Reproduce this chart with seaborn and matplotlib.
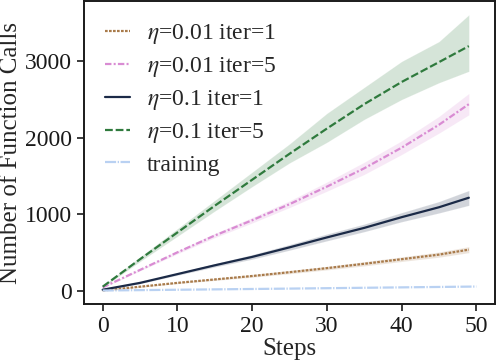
import numpy as np
import pandas as pd
import seaborn as sns
import matplotlib
matplotlib.use("Agg")
import matplotlib.pyplot as plt

# values
steps = [0, 5, 10, 15, 20, 25, 30, 35, 40, 45, 49]

eta001_it1 = [0, 50, 100, 145, 190, 240, 293, 350, 410, 470, 535]
eta001_it1_lo = [0, 44, 90, 132, 174, 220, 270, 322, 380, 436, 495]
eta001_it1_hi = [0, 56, 110, 158, 206, 260, 316, 378, 440, 504, 575]

eta001_it5 = [40, 270, 500, 720, 920, 1130, 1360, 1600, 1870, 2170, 2440]
eta001_it5_lo = [36, 258, 480, 692, 884, 1086, 1300, 1520, 1780, 2060, 2300]
eta001_it5_hi = [44, 282, 520, 748, 956, 1174, 1420, 1680, 1960, 2280, 2580]

eta01_it1 = [10, 100, 215, 330, 440, 565, 695, 820, 960, 1090, 1215]
eta01_it1_lo = [6, 90, 200, 308, 410, 528, 650, 770, 900, 1015, 1115]
eta01_it1_hi = [14, 110, 230, 352, 470, 602, 740, 870, 1020, 1165, 1310]

eta01_it5 = [50, 410, 760, 1110, 1450, 1790, 2120, 2440, 2730, 2990, 3200]
eta01_it5_lo = [40, 380, 710, 1040, 1360, 1670, 1940, 2240, 2500, 2720, 2870]
eta01_it5_hi = [60, 440, 810, 1180, 1550, 1920, 2320, 2660, 3000, 3260, 3610]

train_steps = [0, 25, 50]
training = [0, 25, 52]

sns.set_theme(style="ticks")
plt.rcParams["font.family"] = ["Liberation Serif", "DejaVu Serif"]
plt.rcParams["mathtext.fontset"] = "stix"

fig = plt.figure(figsize=(4.98, 3.64), dpi=100)
ax = fig.add_axes([84 / 498, 1 - 304.3 / 364, 411 / 498, 303.3 / 364])

series = [
    (r"$\eta$=0.01 iter=1", eta001_it1, eta001_it1_lo, eta001_it1_hi, "#a97b4b", (1.2, 0.6)),
    (r"$\eta$=0.01 iter=5", eta001_it5, eta001_it5_lo, eta001_it5_hi, "#d98cd3", (2.9, 1.0, 0.9, 1.0)),
    (r"$\eta$=0.1 iter=1", eta01_it1, eta01_it1_lo, eta01_it1_hi, "#1b2a47", ""),
    (r"$\eta$=0.1 iter=5", eta01_it5, eta01_it5_lo, eta01_it5_hi, "#2f7a3d", (3.5, 1.3)),
]

for label, mean, lo, hi, color, dash in series:
    df = pd.DataFrame({"step": steps, "calls": mean})
    sns.lineplot(data=df, x="step", y="calls", ax=ax, color=color, lw=1.6,
                 label=label, dashes=False)
    line = ax.lines[-1]
    if dash:
        line.set_dashes(dash)
    ax.fill_between(steps, lo, hi, color=color, alpha=0.2, edgecolor="white",
                    linewidth=0.6)

df_t = pd.DataFrame({"step": train_steps, "calls": training})
sns.lineplot(data=df_t, x="step", y="calls", ax=ax, color="#b9d1f2", lw=1.6,
             label="training")
ax.lines[-1].set_dashes((5.0, 0.7, 0.6, 0.7))

ax.set_xlabel("Steps", fontsize=18, labelpad=1)
ax.set_ylabel("Number of Function Calls", fontsize=18, labelpad=2)
ax.set_xticks([0, 10, 20, 30, 40, 50])
ax.set_yticks([0, 1000, 2000, 3000])
ax.tick_params(labelsize=17, length=5, width=1.2, colors="#1a1a1a")
for sp in ax.spines.values():
    sp.set_linewidth(1.4)
    sp.set_color("#1a1a1a")

ax.legend(loc="upper left", frameon=False, fontsize=17, handlelength=1.05,
          handletextpad=0.7, labelspacing=0.38)

fig.savefig("out.png", dpi=100)
